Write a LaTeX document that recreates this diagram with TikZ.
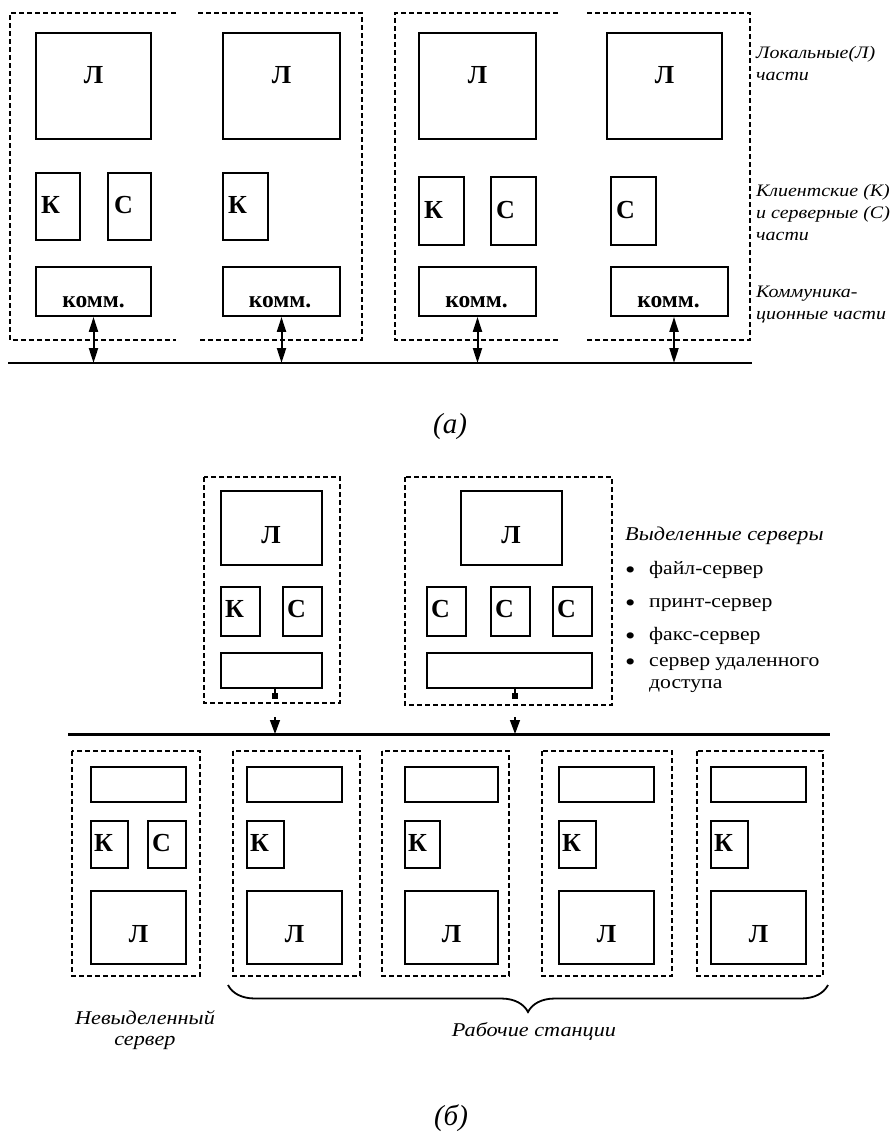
\documentclass[tikz,border=0pt]{standalone}
\usepackage{fontspec}
\setmainfont{Liberation Serif}
\newfontfamily\widefont[FakeStretch=1.14]{Liberation Serif}
\newcommand{\bigbullet}{\makebox[24pt][l]{\raisebox{-4pt}{\fontsize{26}{22}\selectfont\textbullet}}}
\usetikzlibrary{arrows.meta,decorations.pathreplacing}

\begin{document}
\begin{tikzpicture}[x=1pt,y=-1pt,
    partbox/.style={draw, line width=1.8pt, inner sep=0pt},
    dashframe/.style={line width=1.2pt, dash pattern=on 5pt off 3pt},
    letter/.style={font=\fontsize{26}{26}\selectfont\bfseries, inner sep=0pt},
    komm/.style={font=\fontsize{23.5}{23.5}\selectfont\bfseries, inner sep=0pt, anchor=base},
    note/.style={font=\widefont\itshape\fontsize{17.5}{22}\selectfont, align=left, inner sep=0pt, anchor=base west},
    bignote/.style={font=\widefont\itshape\fontsize{19.5}{20.5}\selectfont, align=center, inner sep=0pt, anchor=base},
    listitem/.style={font=\widefont\fontsize{19}{22}\selectfont, align=left, inner sep=0pt, anchor=base west},
    figcap/.style={font=\itshape\fontsize{29}{29}\selectfont, inner sep=0pt, anchor=base},
    duplex/.style={line width=2pt, {Triangle[length=15pt,width=9pt]}-{Triangle[length=15pt,width=9pt]}},
    stub/.style={line width=1.4pt, -{Square[length=6pt,width=6pt]}},
    drop/.style={line width=1.4pt, -{Triangle[length=14pt,width=10pt]}}]
    \useasboundingbox (0,0) rectangle (890,1133);

    % (a) dashed frames, two per pair
    \draw[dashframe] (176,13) -- (10,13) -- (10,340) -- (176,340);
    \draw[dashframe] (198,13) -- (362,13) -- (362,340) -- (198,340);
    \draw[dashframe] (558,13) -- (395,13) -- (395,340) -- (558,340);
    \draw[dashframe] (587,13) -- (750,13) -- (750,340) -- (587,340);

    % local parts
    \node[partbox, minimum width=115, minimum height=106] at (93.5,86) (la1) {};
    \node[partbox, minimum width=117, minimum height=106] at (281.5,86) (la2) {};
    \node[partbox, minimum width=117, minimum height=106] at (477.5,86) (la3) {};
    \node[partbox, minimum width=115, minimum height=106] at (664.5,86) (la4) {};
    \node[letter, anchor=base] at (93.5,83) (la1t) {Л};
    \node[letter, anchor=base] at (281.5,83) (la2t) {Л};
    \node[letter, anchor=base] at (477.5,83) (la3t) {Л};
    \node[letter, anchor=base] at (664.5,83) (la4t) {Л};

    % client and server parts
    \node[partbox, minimum width=44, minimum height=67] at (58,206.5) (ka1) {};
    \node[partbox, minimum width=43, minimum height=67] at (129.5,206.5) (ca1) {};
    \node[partbox, minimum width=45, minimum height=67] at (245.5,206.5) (ka2) {};
    \node[partbox, minimum width=45, minimum height=68] at (441.5,211) (ka3) {};
    \node[partbox, minimum width=45, minimum height=68] at (513.5,211) (ca3) {};
    \node[partbox, minimum width=45, minimum height=68] at (633.5,211) (ca4) {};
    \node[letter, anchor=base west] at (41,213) (ka1t) {К};
    \node[letter, anchor=base west] at (114,213) (ca1t) {С};
    \node[letter, anchor=base west] at (228,213) (ka2t) {К};
    \node[letter, anchor=base west] at (424,218) (ka3t) {К};
    \node[letter, anchor=base west] at (496,218) (ca3t) {С};
    \node[letter, anchor=base west] at (616,218) (ca4t) {С};

    % communication parts
    \node[partbox, minimum width=115, minimum height=49] at (93.5,291.5) (ma1) {};
    \node[partbox, minimum width=117, minimum height=49] at (281.5,291.5) (ma2) {};
    \node[partbox, minimum width=117, minimum height=49] at (477.5,291.5) (ma3) {};
    \node[partbox, minimum width=117, minimum height=49] at (669.5,291.5) (ma4) {};
    \node[komm] at (93.5,307) (ma1t) {комм.};
    \node[komm] at (280,307) (ma2t) {комм.};
    \node[komm] at (476.5,307) (ma3t) {комм.};
    \node[komm] at (668.5,307) (ma4t) {комм.};

    % bus (a)
    \coordinate (busaw) at (8,363);
    \coordinate (busae) at (752,363);
    \coordinate (pa4) at (674,363);
    \draw[line width=2pt] (busaw) -- (busae);
    \draw[duplex] (ma1.south) -- (ma1.south |- busaw);
    \draw[duplex] (ma2.south) -- (ma2.south |- busaw);
    \draw[duplex] (ma3.south) -- (ma3.south |- busaw);
    \draw[duplex] (ma4.south -| pa4) -- (pa4);

    \node[note] at (756,80) (nloc) {Локальные(Л)\\части};
    \node[note] at (756,240) (ncs) {Клиентские (К)\\и серверные (С)\\части};
    \node[note] at (756,319) (ncom) {Коммуника-\\ционные части};

    \node[figcap] at (450,433) (capa) {(а)};

    % (b) dedicated servers
    \draw[dashframe] (204,477) rectangle (340,703);
    \draw[dashframe] (405,477) rectangle (612,705);
    \node[partbox, minimum width=101, minimum height=74] at (271.5,528) (ls1) {};
    \node[partbox, minimum width=39, minimum height=49] at (240.5,611.5) (ks1) {};
    \node[partbox, minimum width=39, minimum height=49] at (302.5,611.5) (cs1) {};
    \node[partbox, minimum width=101, minimum height=35] at (271.5,670.5) (ms1) {};
    \node[letter, anchor=base] at (271,543) (ls1t) {Л};
    \node[letter, anchor=base west] at (225,617) (ks1t) {К};
    \node[letter, anchor=base west] at (287,617) (cs1t) {С};

    \node[partbox, minimum width=101, minimum height=74] at (511.5,528) (ls2) {};
    \node[partbox, minimum width=39, minimum height=49] at (446.5,611.5) (cs2a) {};
    \node[partbox, minimum width=39, minimum height=49] at (510.5,611.5) (cs2b) {};
    \node[partbox, minimum width=39, minimum height=49] at (572.5,611.5) (cs2c) {};
    \node[partbox, minimum width=165, minimum height=35] at (509.5,670.5) (ms2) {};
    \node[letter, anchor=base] at (511,543) (ls2t) {Л};
    \node[letter, anchor=base west] at (431,617) (cs2at) {С};
    \node[letter, anchor=base west] at (495,617) (cs2bt) {С};
    \node[letter, anchor=base west] at (557,617) (cs2ct) {С};

    % bus (b)
    \coordinate (busbw) at (68,734);
    \coordinate (busbe) at (830,734);
    \coordinate (pb1) at (275,734);
    \coordinate (pb2) at (515,734);
    \draw[line width=3pt] (busbw) -- (busbe);
    \draw[stub] (ms1.south -| pb1) -- ++(0,10);
    \draw[stub] (ms2.south -| pb2) -- ++(0,10);
    \draw[drop] (pb1) ++(0,-17) -- (pb1);
    \draw[drop] (pb2) ++(0,-17) -- (pb2);

    \node[note, font=\widefont\itshape\fontsize{19.5}{22}\selectfont] at (625,540) (nded) {Выделенные серверы};
    \node[listitem] at (625,574) (it1) {\bigbullet файл-сервер};
    \node[listitem] at (625,607) (it2) {\bigbullet принт-сервер};
    \node[listitem] at (625,640) (it3) {\bigbullet факс-сервер};
    \node[listitem] at (625,688) (it4) {\bigbullet сервер удаленного\\\hspace*{24pt}доступа};

    % (b) non-dedicated server and workstations
    \draw[dashframe] (72,751) rectangle (200,976);
    \draw[dashframe] (233,751) rectangle (360,976);
    \draw[dashframe] (382,751) rectangle (509,976);
    \draw[dashframe] (542,751) rectangle (672,976);
    \draw[dashframe] (697,751) rectangle (823,976);

    \node[partbox, minimum width=95, minimum height=35] at (138.5,784.5) (tw1) {};
    \node[partbox, minimum width=37, minimum height=47] at (109.5,844.5) (kw1) {};
    \node[partbox, minimum width=38, minimum height=47] at (167,844.5) (cw1) {};
    \node[partbox, minimum width=95, minimum height=73] at (138.5,927.5) (lw1) {};
    \node[letter, anchor=base west] at (94,851) (kw1t) {К};
    \node[letter, anchor=base west] at (152,851) (cw1t) {С};
    \node[letter, anchor=base] at (138.5,942) (lw1t) {Л};

    \node[partbox, minimum width=95, minimum height=35] at (294.5,784.5) (tw2) {};
    \node[partbox, minimum width=37, minimum height=47] at (265.5,844.5) (kw2) {};
    \node[partbox, minimum width=95, minimum height=73] at (294.5,927.5) (lw2) {};
    \node[letter, anchor=base west] at (250,851) (kw2t) {К};
    \node[letter, anchor=base] at (294.5,942) (lw2t) {Л};

    \node[partbox, minimum width=93, minimum height=35] at (451.5,784.5) (tw3) {};
    \node[partbox, minimum width=35, minimum height=47] at (422.5,844.5) (kw3) {};
    \node[partbox, minimum width=93, minimum height=73] at (451.5,927.5) (lw3) {};
    \node[letter, anchor=base west] at (408,851) (kw3t) {К};
    \node[letter, anchor=base] at (451.5,942) (lw3t) {Л};

    \node[partbox, minimum width=95, minimum height=35] at (606.5,784.5) (tw4) {};
    \node[partbox, minimum width=37, minimum height=47] at (577.5,844.5) (kw4) {};
    \node[partbox, minimum width=95, minimum height=73] at (606.5,927.5) (lw4) {};
    \node[letter, anchor=base west] at (562,851) (kw4t) {К};
    \node[letter, anchor=base] at (606.5,942) (lw4t) {Л};

    \node[partbox, minimum width=95, minimum height=35] at (758.5,784.5) (tw5) {};
    \node[partbox, minimum width=37, minimum height=47] at (729.5,844.5) (kw5) {};
    \node[partbox, minimum width=95, minimum height=73] at (758.5,927.5) (lw5) {};
    \node[letter, anchor=base west] at (714,851) (kw5t) {К};
    \node[letter, anchor=base] at (758.5,942) (lw5t) {Л};

    % brace over the workstations
    \coordinate (brl) at (228,985);
    \coordinate (brr) at (828,985);
    \draw[line width=1.8pt, decorate, decoration={brace, amplitude=27pt}] (brr) -- (brl);

    \node[bignote] at (145,1045) (nnon) {Невыделенный\\сервер};
    \node[bignote] at (534,1036) (nws) {Рабочие станции};

    \node[figcap] at (451,1125) (capb) {(б)};
\end{tikzpicture}
\end{document}
